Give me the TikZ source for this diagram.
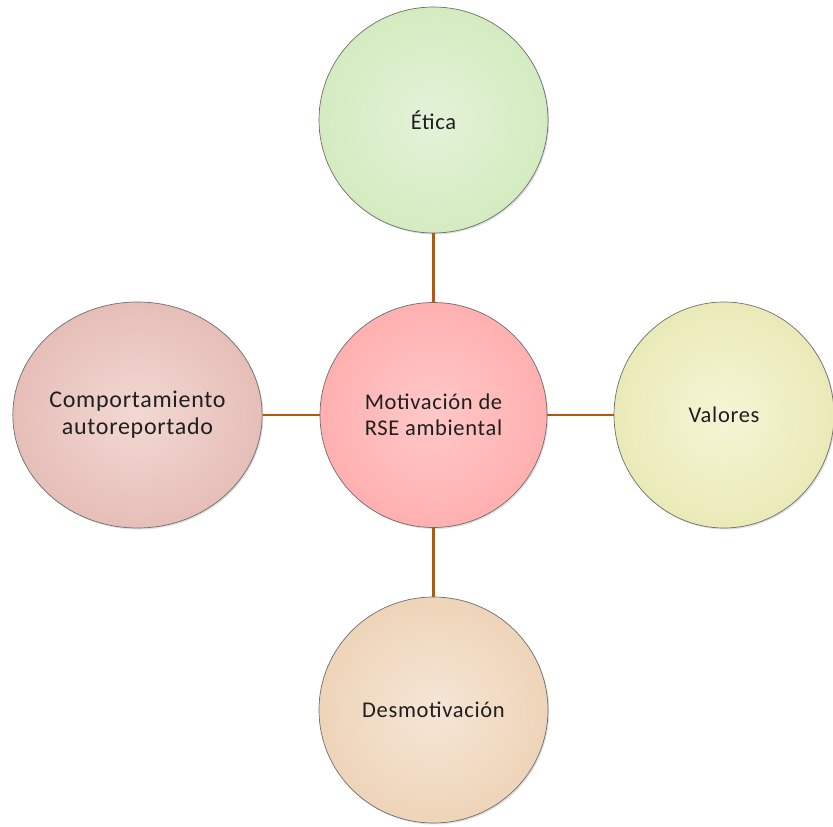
\documentclass[tikz,border=0pt]{standalone}
\usepackage{fontspec}
\setmainfont{Carlito}[LetterSpace=3]
\usetikzlibrary{shapes.geometric,shadows}
\definecolor{linkbrown}{RGB}{178,90,10}
\definecolor{rimgray}{RGB}{110,110,110}
\begin{document}
\begin{tikzpicture}[x=1pt,y=-1pt,
  bubble/.style={ellipse, draw=rimgray, line width=0.7pt, inner sep=0pt,
    align=center, font=\fontsize{22.5}{26}\selectfont, text=black!88,
    drop shadow={opacity=0.25, shadow xshift=1.2pt, shadow yshift=-1.5pt}},
  link/.style={draw=linkbrown, line width=2.4pt}]
\useasboundingbox (0,0) rectangle (833,827);
% central bubble and the four around it
\node[bubble, minimum width=227pt, minimum height=225pt,
  inner color={rgb,255:red,255;green,200;blue,200}, outer color={rgb,255:red,255;green,176;blue,176}]
  (core) at (433.5,415) {Motivación de\\RSE ambiental};
\node[bubble, minimum width=229pt, minimum height=226pt,
  inner color={rgb,255:red,228;green,242;blue,216}, outer color={rgb,255:red,212;green,235;blue,192}]
  (etica) at (433.5,120) {Ética};
\node[bubble, minimum width=249pt, minimum height=226pt,
  font=\fontsize{24}{27}\selectfont,
  inner color={rgb,255:red,243;green,216;blue,211}, outer color={rgb,255:red,230;green,190;blue,184}]
  (comp) at (137.5,415) {Comportamiento\\autoreportado};
\node[bubble, minimum width=220pt, minimum height=226pt,
  inner color={rgb,255:red,245;green,245;blue,214}, outer color={rgb,255:red,234;green,234;blue,184}]
  (valores) at (724,415) {Valores};
\node[bubble, minimum width=229pt, minimum height=226pt,
  inner color={rgb,255:red,245;green,230;blue,214}, outer color={rgb,255:red,238;green,212;blue,184}]
  (desm) at (433.5,710) {Desmotivación};
% spokes from the centre to each bubble
\draw[link] (etica.south) -- (core.north);
\draw[link] (core.south) -- (desm.north);
\draw[link] (comp.east) -- (core.west);
\draw[link] (core.east) -- (valores.west);
\end{tikzpicture}
\end{document}
